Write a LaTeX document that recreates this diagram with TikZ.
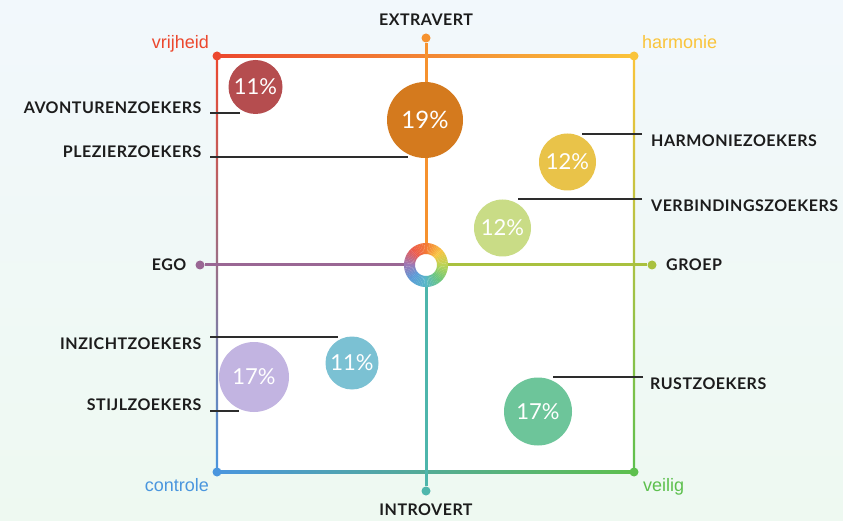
\documentclass[tikz,border=0pt]{standalone}
\usepackage{fontspec}
\setmainfont{Lato}
\newfontfamily\cornerfont{Liberation Sans}
\newfontfamily\segfont{Lato}[LetterSpace=3]
\usepackage{tikz}
\usetikzlibrary{positioning}
\definecolor{ink}{RGB}{28, 28, 28}
\definecolor{leadgray}{RGB}{45, 45, 45}
\definecolor{bgblue}{RGB}{242, 248, 252}
\definecolor{bggreen}{RGB}{238, 249, 241}
% corner colours
\definecolor{cred}{RGB}{236, 72, 46}
\definecolor{cyellow}{RGB}{250, 196, 58}
\definecolor{cblue}{RGB}{74, 150, 222}
\definecolor{cgreen}{RGB}{93, 192, 78}
\definecolor{cpurple}{RGB}{150, 100, 160}
% axis colours
\definecolor{axorange}{RGB}{246, 146, 47}
\definecolor{axteal}{RGB}{78, 182, 172}
\definecolor{axpurple}{RGB}{154, 103, 148}
\definecolor{axlime}{RGB}{169, 193, 63}
% bubble colours
\definecolor{bubred}{RGB}{181, 77, 79}
\definecolor{buborange}{RGB}{212, 122, 30}
\definecolor{bubyellow}{RGB}{233, 195, 73}
\definecolor{bublime}{RGB}{201, 220, 134}
\definecolor{bubblue}{RGB}{123, 193, 211}
\definecolor{bublav}{RGB}{194, 180, 225}
\definecolor{bubgreen}{RGB}{109, 197, 154}
% ring colours
\definecolor{ringA}{RGB}{236, 90, 78}
\definecolor{ringB}{RGB}{244, 123, 53}
\definecolor{ringC}{RGB}{248, 196, 67}
\definecolor{ringD}{RGB}{184, 212, 85}
\definecolor{ringE}{RGB}{108, 199, 124}
\definecolor{ringF}{RGB}{88, 183, 201}
\definecolor{ringG}{RGB}{91, 155, 216}
\definecolor{ringH}{RGB}{160, 119, 180}

\begin{document}
\begin{tikzpicture}[x=1pt, y=-1pt,
    bubble/.style 2 args={circle, fill=#1, minimum size=#2, inner sep=0pt, text=white, font=\fontsize{22}{22}\selectfont},
    seglabel/.style={inner sep=0pt, text=ink, font=\segfont\bfseries\fontsize{16}{16}\selectfont},
    cornerlabel/.style={inner sep=0pt, font=\cornerfont\fontsize{18}{18}\selectfont},
    dot/.style={circle, inner sep=0pt, minimum size=9pt},
    axisline/.style={line width=3pt},
    leader/.style={draw=leadgray, line width=1.3pt}]
        \useasboundingbox (0,0) rectangle (843,521);
        % Background
        \shade[top color=bgblue, bottom color=bggreen] (0,0) rectangle (843,521);
        \fill[white] (217,56) rectangle (634,472);
        
        % Frame edges
        \shade[left color=cred, middle color=axorange, right color=cyellow] (217,54.8) rectangle (634,57.2);
        \shade[left color=cblue, middle color=axteal, right color=cgreen] (217,470.8) rectangle (634,473.2);
        \shade[top color=cred, middle color=cpurple, bottom color=cblue] (215.8,56) rectangle (218.2,472);
        \shade[top color=cyellow, middle color=axlime, bottom color=cgreen] (632.8,56) rectangle (635.2,472);
        
        % Corner dots and labels
        \node[dot, fill=cred] (cvrij) at (217,56) {};
        \node[dot, fill=cyellow] (charm) at (634,56) {};
        \node[dot, fill=cblue] (ccontr) at (217,472) {};
        \node[dot, fill=cgreen] (cveil) at (634,472) {};
        \node[cornerlabel, text=cred, anchor=base east] (vrijheid) at (209,49) {vrijheid};
        \node[cornerlabel, text=cyellow, anchor=base west] (harmonie) at (642,49) {harmonie};
        \node[cornerlabel, text=cblue, anchor=base east] (controle) at (209,491) {controle};
        \node[cornerlabel, text=cgreen, anchor=base west] (veilig) at (643,491) {veilig};
        
        % Axes
        \node[circle, minimum size=44pt, inner sep=0pt] (center) at (426,265) {};
        \node[dot, fill=axorange] (dtop) at (426,38) {};
        \node[dot, fill=axteal] (dbottom) at (426,491) {};
        \node[dot, fill=axpurple] (dleft) at (200,265) {};
        \node[dot, fill=axlime] (dright) at (652,265) {};
        \draw[axisline, axorange] (center) -- (dtop);
        \draw[axisline, axteal] (center) -- (dbottom);
        \draw[axisline, axpurple] (center) -- (dleft);
        \draw[axisline, axlime] (center) -- (dright);
        
        % Centre ring
        \foreach \ca/\cb [count=\i from 0] in {ringA/ringB, ringB/ringC, ringC/ringD, ringD/ringE, ringE/ringF, ringF/ringG, ringG/ringH, ringH/ringA} {
            \foreach \k in {0,...,8} {
                \pgfmathtruncatemacro\p{100-\k*100/9}
                \pgfmathsetmacro\a{-135+\i*45+\k*5}
                \fill[\ca!\p!\cb, shift={(center.center)}] (\a:11) -- (\a:22) arc[start angle=\a, end angle=\a+5.4, radius=22] -- (\a+5.4:11) arc[start angle=\a+5.4, end angle=\a, radius=11] -- cycle;
            }
        }
        
        % Axis labels
        \node[seglabel] (extravert) at (426,20) {EXTRAVERT};
        \node[seglabel] (introvert) at (426,509.5) {INTROVERT};
        \node[seglabel, anchor=east] (ego) at (186.5,265) {EGO};
        \node[seglabel, anchor=west] (groep) at (666,265) {GROEP};
        
        % Bubbles
        \node[bubble={bubred}{54pt}] (avontuur) at (255.5,87) {11\%};
        \node[bubble={buborange}{76pt}, font=\fontsize{24}{24}\selectfont] (plezier) at (425,120) {19\%};
        \node[bubble={bubyellow}{57pt}] (harmonie) at (567.5,162) {12\%};
        \node[bubble={bublime}{57pt}] (verbinding) at (502.5,228) {12\%};
        \node[bubble={bubblue}{53pt}] (inzicht) at (352,363) {11\%};
        \node[bubble={bublav}{70pt}] (stijl) at (254,377) {17\%};
        \node[bubble={bubgreen}{68pt}] (rust) at (538,411.5) {17\%};
        
        % Segment labels
        \node[seglabel, anchor=east] (avonturen) at (201.5,108) {AVONTURENZOEKERS};
        \node[seglabel, anchor=east] (plezierz) at (201.5,151.5) {PLEZIERZOEKERS};
        \node[seglabel, anchor=east] (inzichtz) at (201.5,343.5) {INZICHTZOEKERS};
        \node[seglabel, anchor=east] (stijlz) at (201.5,405) {STIJLZOEKERS};
        \node[seglabel, anchor=west] (harmoniez) at (651,140.5) {HARMONIEZOEKERS};
        \node[seglabel, anchor=west] (verbindingz) at (651,206) {VERBINDINGSZOEKERS};
        \node[seglabel, anchor=west] (rustz) at (650,383.5) {RUSTZOEKERS};
        
        % Leader lines
        \coordinate (avonA) at (210,113);   \coordinate (avonB) at (240,113);
        \coordinate (plezA) at (210,157);   \coordinate (plezB) at (408,157);
        \coordinate (inzA) at (210,337);    \coordinate (inzB) at (338,337);
        \coordinate (stijlA) at (210,411);  \coordinate (stijlB) at (239,411);
        \coordinate (harmA) at (642,134);   \coordinate (harmB) at (582,134);
        \coordinate (verbA) at (642,199);   \coordinate (verbB) at (518,199);
        \coordinate (rustA) at (643,377);   \coordinate (rustB) at (553,377);
        \draw[leader] (avonA) -- (avonB);
        \draw[leader] (plezA) -- (plezB);
        \draw[leader] (inzA) -- (inzB);
        \draw[leader] (stijlA) -- (stijlB);
        \draw[leader] (harmA) -- (harmB);
        \draw[leader] (verbA) -- (verbB);
        \draw[leader] (rustA) -- (rustB);
    \end{tikzpicture}
\end{document}
